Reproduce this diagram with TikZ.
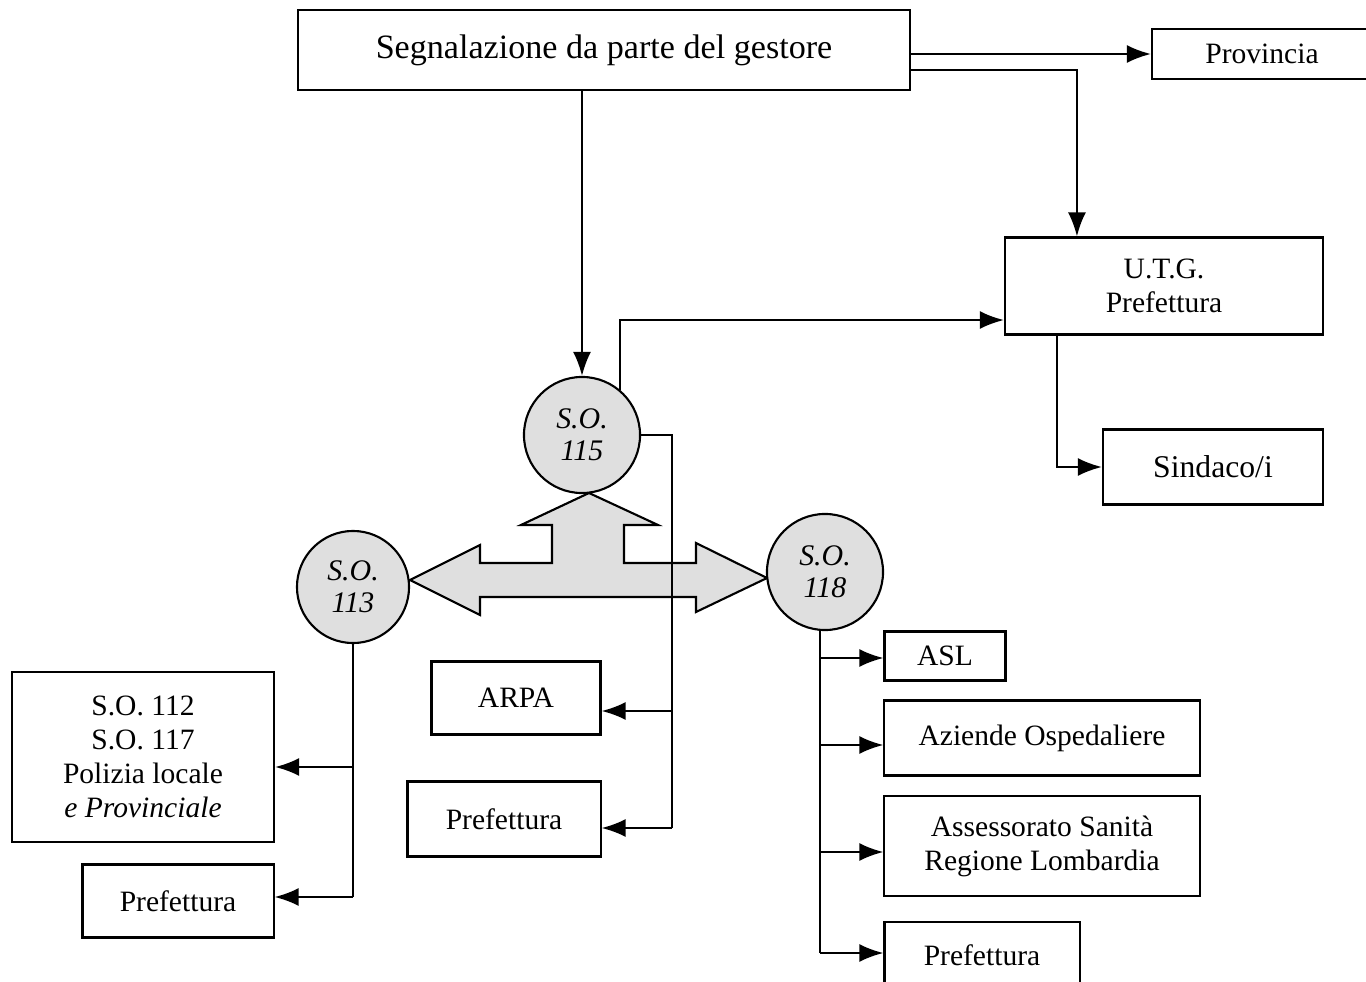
\documentclass[tikz,border=0pt]{standalone}
\usepackage{fontspec}
\setmainfont{Liberation Serif}
\usetikzlibrary{arrows.meta}
\begin{document}
\begin{tikzpicture}[x=0.01cm,y=-0.01cm,line width=0.6pt,
  ente/.style={draw,rectangle,inner sep=0pt,align=center,font=\fontsize{8.4}{9.7}\selectfont},
  centrale/.style={draw,circle,fill=gray!25,inner sep=0pt,align=center,
    font=\fontsize{8.5}{9}\selectfont\itshape},
  freccia/.style={-{Latex[length=2.4mm,width=1.8mm]}}]
\useasboundingbox (0,0) rectangle (1366,982);
\node[ente,minimum width=6.12cm,minimum height=0.8cm,font=\fontsize{9.7}{12}\selectfont] (gestore) at (604,50) {Segnalazione da parte del gestore};
\node[ente,minimum width=2.2cm,minimum height=0.5cm] (provincia) at (1262,54) {Provincia};
\node[ente,minimum width=3.18cm,minimum height=0.97cm] (utg) at (1164,286) {U.T.G.\\Prefettura};
\node[ente,minimum width=2.2cm,minimum height=0.75cm,font=\fontsize{9}{10}\selectfont] (sindaco) at (1213,467) {Sindaco/i};
\draw[fill=gray!25] (410,580) -- (480,545) -- (480,563) -- (552,563) -- (552,525)
  -- (521,525) -- (589,493) -- (658,525) -- (624,525) -- (624,563) -- (696,563)
  -- (696,543) -- (767,578) -- (696,612) -- (696,597) -- (480,597) -- (480,615) -- cycle;
\node[centrale,minimum size=1.16cm] (so115) at (582,435) {S.O.\\115};
\node[centrale,minimum size=1.12cm] (so113) at (353,587) {S.O.\\113};
\node[centrale,minimum size=1.16cm] (so118) at (825,572) {S.O.\\118};
\node[ente,minimum width=2.62cm,minimum height=1.7cm] (polizia) at (143,757) {S.O. 112\\S.O. 117\\Polizia locale\\\textit{e Provinciale}};
\node[ente,minimum width=1.91cm,minimum height=0.73cm] (pref113) at (178,901) {Prefettura};
\node[ente,minimum width=1.69cm,minimum height=0.73cm] (arpa) at (516,698) {ARPA};
\node[ente,minimum width=1.93cm,minimum height=0.75cm] (pref115) at (504,819) {Prefettura};
\node[ente,minimum width=1.21cm,minimum height=0.49cm] (asl) at (945,656) {ASL};
\node[ente,minimum width=3.15cm,minimum height=0.75cm] (aziende) at (1042,738) {Aziende Ospedaliere};
\node[ente,minimum width=3.15cm,minimum height=1.0cm] (assessorato) at (1042,846) {Assessorato Sanità\\Regione Lombardia};
\node[ente,minimum width=1.95cm,minimum height=0.66cm] (pref118) at (982,955) {Prefettura};
\draw[freccia] (gestore.east |- provincia.west) -- (provincia.west);
\draw[freccia] ([yshift=-0.2cm]gestore.east) -| ([xshift=-0.87cm]utg.north);
\draw[freccia] (gestore.south -| so115.north) -- (so115.north);
\draw[freccia] (so115.50) |- ([yshift=-0.34cm]utg.west);
\draw[freccia] ([xshift=-1.07cm]utg.south) |- (sindaco.west);
\coordinate (a115) at (672,711);
\coordinate (b115) at (672,828);
\draw (so115.east) -| (b115);
\draw[freccia] (a115) -- (a115 -| arpa.east);
\draw[freccia] (b115) -- (b115 -| pref115.east);
\coordinate (a113) at (353,767);
\coordinate (b113) at (353,897);
\draw (so113.south) -- (b113);
\draw[freccia] (a113) -- (a113 -| polizia.east);
\draw[freccia] (b113) -- (b113 -| pref113.east);
\coordinate (a118) at (820,658);
\coordinate (b118) at (820,745);
\coordinate (c118) at (820,852);
\coordinate (d118) at (820,953);
\draw (so118.south -| a118) -- (d118);
\draw[freccia] (a118) -- (a118 -| asl.west);
\draw[freccia] (b118) -- (b118 -| aziende.west);
\draw[freccia] (c118) -- (c118 -| assessorato.west);
\draw[freccia] (d118) -- (d118 -| pref118.west);
\end{tikzpicture}
\end{document}
